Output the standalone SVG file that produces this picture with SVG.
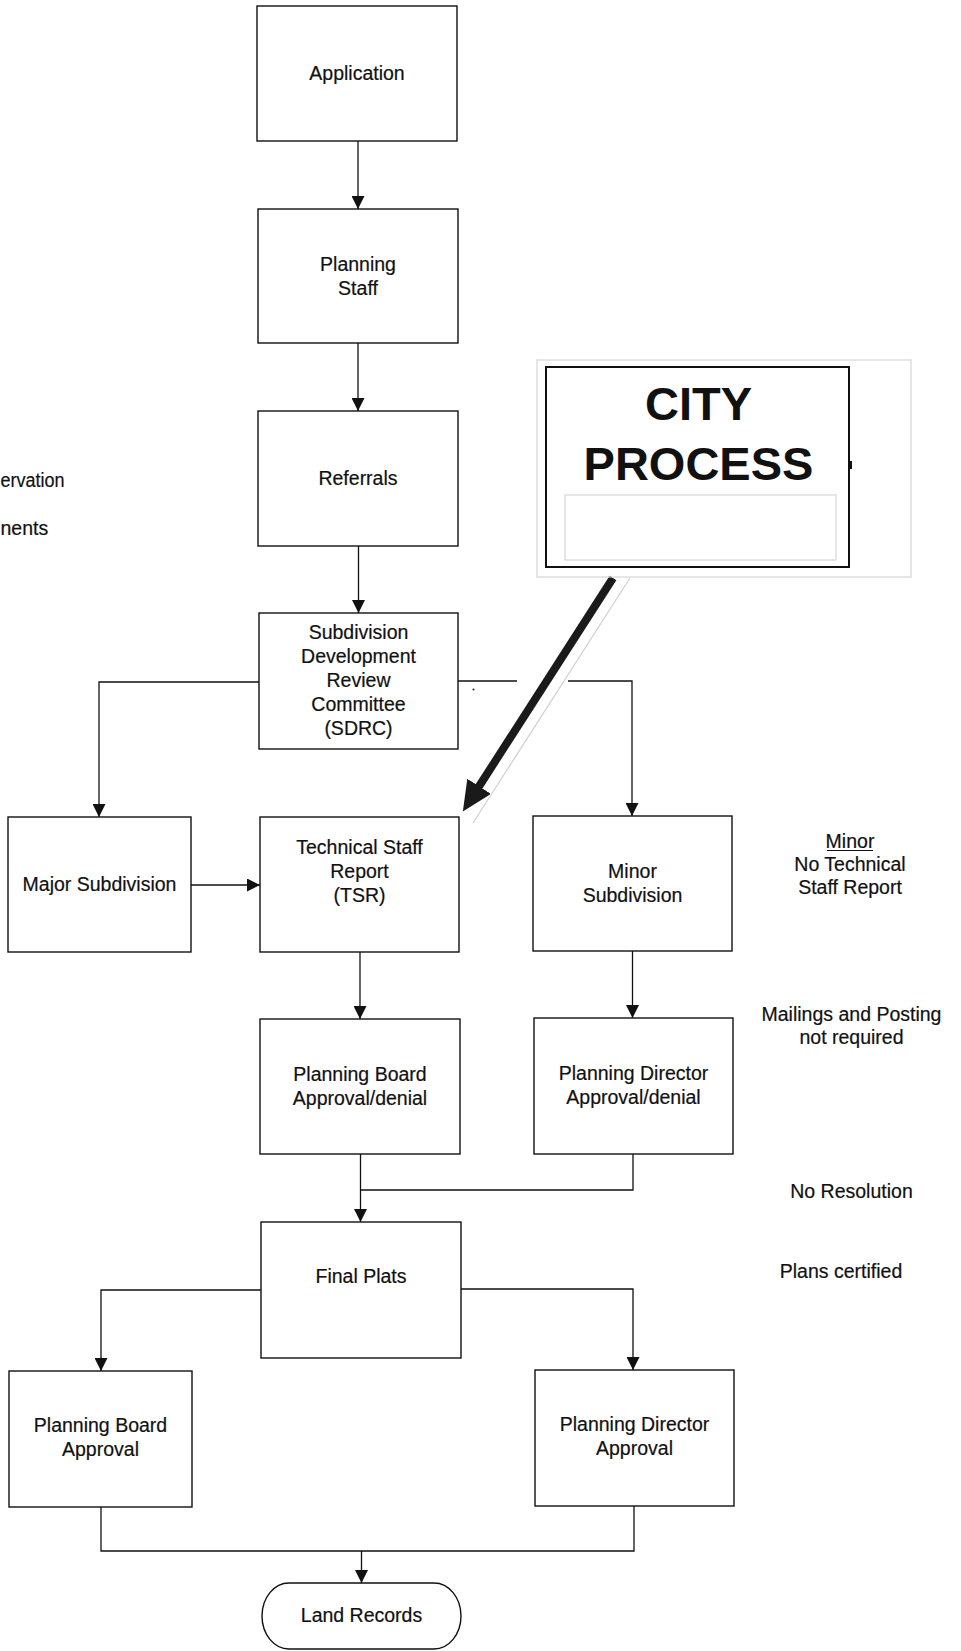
<svg xmlns="http://www.w3.org/2000/svg" width="961" height="1651" viewBox="0 0 961 1651">
<defs>
<style>
.box{fill:#fff;stroke:#111;stroke-width:1.4}
.t{font-family:"Liberation Sans",Arial,sans-serif;font-size:19.5px;fill:#111;stroke:#111;stroke-width:0.2;text-anchor:middle}
.ts{font-family:"Liberation Sans",Arial,sans-serif;font-size:19.5px;fill:#111;stroke:#111;stroke-width:0.2;text-anchor:start}
.big{font-family:"Liberation Sans",Arial,sans-serif;font-size:47px;font-weight:bold;fill:#111;text-anchor:middle}
.c{fill:none;stroke:#111;stroke-width:1.3}
.faint{fill:none;stroke:#d6d6d6;stroke-width:1.2}
</style>
<marker id="ah" viewBox="0 0 13 13" refX="13" refY="6.5" markerWidth="13" markerHeight="13" markerUnits="userSpaceOnUse" orient="auto">
<path d="M0,0 L13,6.5 L0,13 z" fill="#111"/>
</marker>
<marker id="bigah" viewBox="0 0 30 28" refX="2" refY="14" markerWidth="30" markerHeight="28" markerUnits="userSpaceOnUse" orient="auto">
<path d="M0,0 L30,14 L0,28 z" fill="#1a1a1a"/>
</marker>
</defs>
<rect x="0" y="0" width="961" height="1651" fill="#fff"/>

<g id="connectors">
<line class="c" x1="358" y1="141" x2="358" y2="209" marker-end="url(#ah)"/>
<line class="c" x1="358" y1="343" x2="358" y2="411" marker-end="url(#ah)"/>
<line class="c" x1="358.5" y1="546" x2="358.5" y2="613" marker-end="url(#ah)"/>
<polyline class="c" points="259,682 99,682 99,817" marker-end="url(#ah)"/>
<line class="c" x1="458" y1="681" x2="517" y2="681"/>
<polyline class="c" points="568,681 632,681 632,816" marker-end="url(#ah)"/>
<line class="c" x1="191" y1="885" x2="260" y2="885" marker-end="url(#ah)"/>
<line class="c" x1="360" y1="952" x2="360" y2="1019" marker-end="url(#ah)"/>
<line class="c" x1="632.5" y1="951" x2="632.5" y2="1018" marker-end="url(#ah)"/>
<line class="c" x1="360.5" y1="1154" x2="360.5" y2="1222" marker-end="url(#ah)"/>
<polyline class="c" points="633,1154 633,1190 360.5,1190"/>
<polyline class="c" points="461,1289 633,1289 633,1370" marker-end="url(#ah)"/>
<polyline class="c" points="261,1290 101,1290 101,1371" marker-end="url(#ah)"/>
<polyline class="c" points="101,1507 101,1551 634,1551 634,1506"/>
<line class="c" x1="361.5" y1="1551" x2="361.5" y2="1583" marker-end="url(#ah)"/>
<line x1="630" y1="578" x2="473" y2="823" stroke="#cfcfcf" stroke-width="1.2"/>
<line x1="613" y1="578" x2="478" y2="788" stroke="#1a1a1a" stroke-width="8" marker-end="url(#bigah)"/>
<circle cx="473.5" cy="689.5" r="1.1" fill="#333"/>
</g>

<g id="application">
<rect class="box" x="257" y="6" width="200" height="135"/>
<text class="t" x="357" y="80">Application</text>
</g>
<g id="planning-staff">
<rect class="box" x="258" y="209" width="200" height="134"/>
<text class="t" x="358" y="271">Planning</text>
<text class="t" x="358" y="295">Staff</text>
</g>
<g id="referrals">
<rect class="box" x="258" y="411" width="200" height="135"/>
<text class="t" x="358" y="485">Referrals</text>
</g>
<g id="sdrc">
<rect class="box" x="259" y="613" width="199" height="136"/>
<text class="t" x="358.5" y="639">Subdivision</text>
<text class="t" x="358.5" y="663">Development</text>
<text class="t" x="358.5" y="687">Review</text>
<text class="t" x="358.5" y="711">Committee</text>
<text class="t" x="358.5" y="735">(SDRC)</text>
</g>
<g id="major-subdivision">
<rect class="box" x="8" y="817" width="183" height="135"/>
<text class="t" x="99.5" y="891">Major Subdivision</text>
</g>
<g id="tsr">
<rect class="box" x="260" y="817" width="199" height="135"/>
<text class="t" x="359.5" y="854">Technical Staff</text>
<text class="t" x="359.5" y="878">Report</text>
<text class="t" x="359.5" y="902">(TSR)</text>
</g>
<g id="minor-subdivision">
<rect class="box" x="533" y="816" width="199" height="135"/>
<text class="t" x="632.5" y="878">Minor</text>
<text class="t" x="632.5" y="902">Subdivision</text>
</g>
<g id="planning-board-approval-denial">
<rect class="box" x="260" y="1019" width="200" height="135"/>
<text class="t" x="360" y="1081">Planning Board</text>
<text class="t" x="360" y="1105">Approval/denial</text>
</g>
<g id="planning-director-approval-denial">
<rect class="box" x="534" y="1018" width="199" height="136"/>
<text class="t" x="633.5" y="1080">Planning Director</text>
<text class="t" x="633.5" y="1104">Approval/denial</text>
</g>
<g id="final-plats">
<rect class="box" x="261" y="1222" width="200" height="136"/>
<text class="t" x="361" y="1283">Final Plats</text>
</g>
<g id="planning-board-approval">
<rect class="box" x="9" y="1371" width="183" height="136"/>
<text class="t" x="100.5" y="1432">Planning Board</text>
<text class="t" x="100.5" y="1456">Approval</text>
</g>
<g id="planning-director-approval">
<rect class="box" x="535" y="1370" width="199" height="136"/>
<text class="t" x="634.5" y="1431">Planning Director</text>
<text class="t" x="634.5" y="1455">Approval</text>
</g>
<g id="land-records">
<rect class="box" x="262" y="1583" width="199" height="66" rx="27" ry="33"/>
<text class="t" x="361.5" y="1622">Land Records</text>
</g>

<g id="city-process">
<rect class="faint" x="537" y="360" width="374" height="217"/>
<rect x="546" y="367" width="303" height="200" fill="#fff" stroke="#111" stroke-width="2"/>
<rect class="faint" x="565" y="495" width="271" height="65"/>
<rect x="849" y="461" width="3" height="8" fill="#111"/>
<text class="big" x="698.5" y="420">CITY</text>
<text class="big" x="698.5" y="480">PROCESS</text>
</g>

<g id="annotations">
<text class="ts" x="0.5" y="487" textLength="64" lengthAdjust="spacingAndGlyphs">ervation</text>
<text class="ts" x="0.5" y="535">nents</text>
<text class="t" x="850" y="848">Minor</text>
<line x1="827" y1="850.5" x2="873" y2="850.5" stroke="#111" stroke-width="1.2"/>
<text class="t" x="850" y="871">No Technical</text>
<text class="t" x="850" y="894">Staff Report</text>
<text class="t" x="851.5" y="1021">Mailings and Posting</text>
<text class="t" x="851.5" y="1044">not required</text>
<text class="t" x="851.5" y="1198">No Resolution</text>
<text class="t" x="841" y="1278">Plans certified</text>
</g>
</svg>
